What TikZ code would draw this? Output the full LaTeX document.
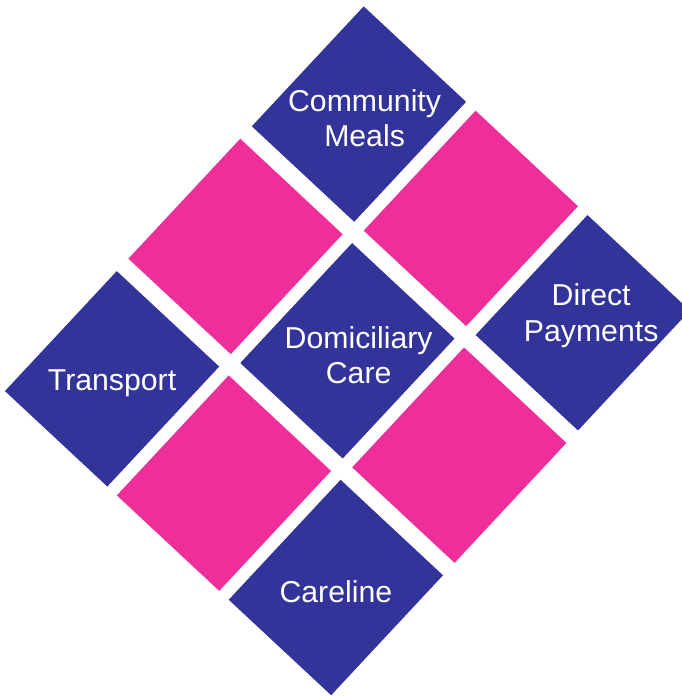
\documentclass[tikz,border=0pt]{standalone}
\usepackage{fontspec}
\setmainfont{Liberation Sans}
\usepackage{tikz}
\definecolor{careblue}{RGB}{51,52,153}
\definecolor{carepink}{RGB}{238,47,155}
\tikzset{
  celltext/.style={text=white, align=center, inner sep=0pt, yshift=-3,
    font=\fontsize{21.5}{25}\selectfont},
}

\begin{document}
\begin{tikzpicture}[x=0.025cm, y=0.025cm]
  \useasboundingbox (0,0) rectangle (682,696);
  % tilted grid of cells, 153 x 181 pitch
  \begin{scope}[shift={(347.4,345.2)}, rotate=-43]
    \foreach \i/\j in {0/0,2/0,1/1,0/2,2/2}
      \fill[careblue] ({(\i-1)*153-70},{-(\j-1)*181-82}) rectangle +(140,164);
    \foreach \i/\j in {1/0,0/1,2/1,1/2}
      \fill[carepink] ({(\i-1)*153-70},{-(\j-1)*181-82}) rectangle +(140,164);
    \foreach \i in {0,1,2}
      \foreach \j in {0,1,2}
        \coordinate (c-\i-\j) at ({(\i-1)*153},{-(\j-1)*181});
  \end{scope}
  \node[celltext, xshift=4] (meals) at (c-0-0) {Community\\Meals};
  \node[celltext, xshift=6, yshift=8] (payments) at (c-2-0) {Direct\\Payments};
  \node[celltext, xshift=8] (domiciliary) at (c-1-1) {Domiciliary\\Care};
  \node[celltext] (transport) at (c-0-2) {Transport};
  \node[celltext] (careline) at (c-2-2) {Careline};
\end{tikzpicture}
\end{document}
